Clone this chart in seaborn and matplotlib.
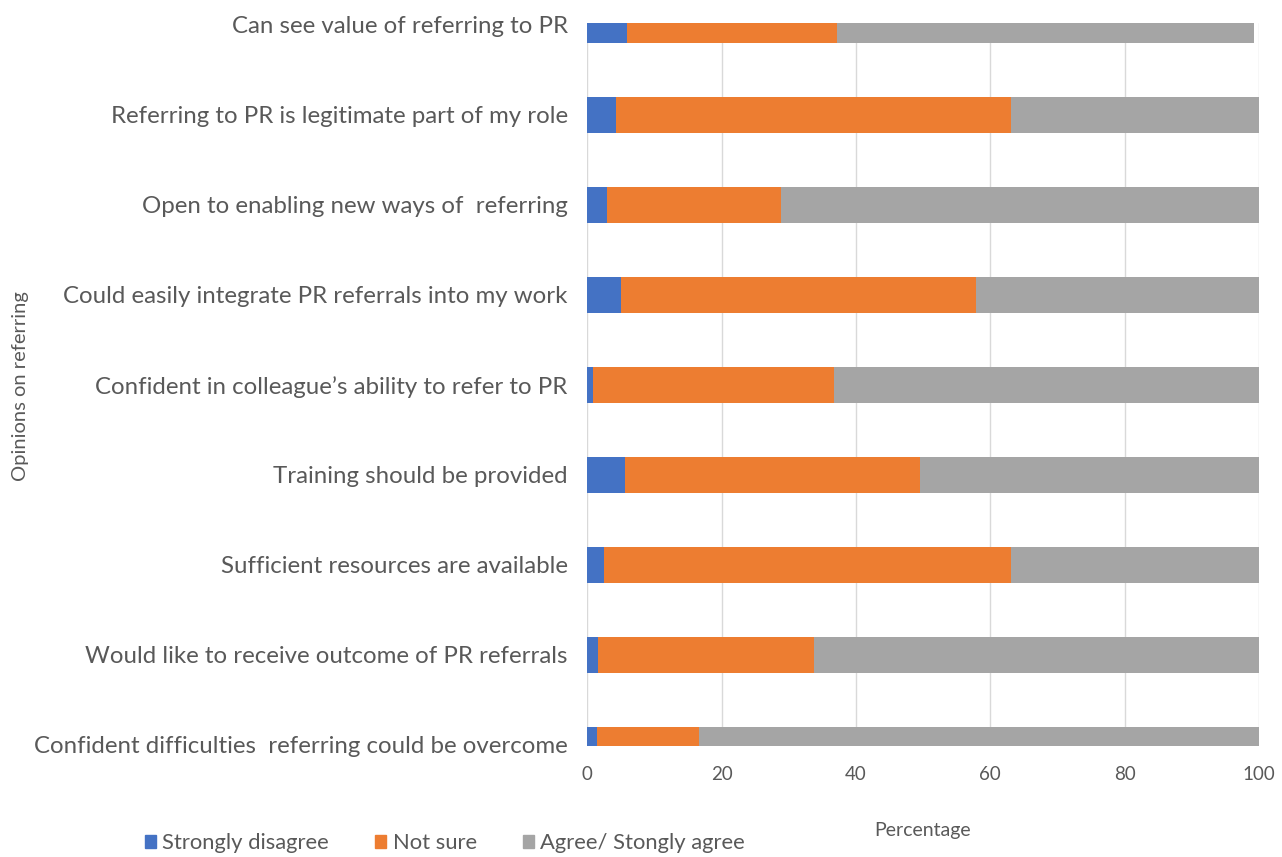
import pandas as pd
import seaborn as sns
import matplotlib.pyplot as plt

# Datos (porcentajes)
opinions = [
    "Can see value of referring to PR",
    "Referring to PR is legitimate part of my role",
    "Open to enabling new ways of  referring",
    "Could easily integrate PR referrals into my work",
    "Confident in colleague\u2019s ability to refer to PR",
    "Training should be provided",
    "Sufficient resources are available",
    "Would like to receive outcome of PR referrals",
    "Confident difficulties  referring could be overcome",
]
strongly_disagree = [5.9, 4.3, 2.9, 5.1, 0.8, 5.7, 2.5, 1.6, 1.5]
not_sure = [31.3, 58.8, 26.0, 52.8, 35.9, 43.8, 60.6, 32.1, 15.2]
agree = [62.0, 36.9, 71.1, 42.1, 63.3, 50.5, 36.9, 66.3, 83.3]

series = ["Strongly disagree", "Not sure", "Agree/ Stongly agree"]
colors = ["#4472C4", "#ED7D31", "#A5A5A5"]
text_color = "#595959"

df = pd.DataFrame({
    "Opinion": opinions,
    series[0]: strongly_disagree,
    series[1]: not_sure,
    series[2]: agree,
})
# acumulados para apilar las barras
cum = df[series].cumsum(axis=1)

sns.set_style("white")
plt.rcParams["font.family"] = ["Lato", "DejaVu Sans"]

fig = plt.figure(figsize=(12.82, 8.57), dpi=100)
ax = fig.add_axes([0.458, 0.129, 0.524, 0.844])

for name, color in reversed(list(zip(series, colors))):
    sns.barplot(x=cum[name], y=df["Opinion"], color=color, width=0.4,
                saturation=1, linewidth=0, ax=ax, orient="h", zorder=3)

ax.set_xlim(0, 100)
ax.set_ylim(len(opinions) - 1 + 0.02, -0.02)
ax.set_xticks([0, 20, 40, 60, 80, 100])
ax.grid(axis="x", color="#D9D9D9", linewidth=1, zorder=0)
ax.set_axisbelow(True)
for s in ax.spines.values():
    s.set_visible(False)
ax.tick_params(axis="both", length=0, colors=text_color)
ax.tick_params(axis="y", labelsize=17.3, pad=14)
ax.tick_params(axis="x", labelsize=13.5, pad=14)
ax.set_xlabel("Percentage", fontsize=14, color=text_color, labelpad=28)
ax.set_ylabel("")
fig.text(0.016, 0.55, "Opinions on referring", rotation=90, fontsize=14.5,
         color=text_color, ha="center", va="center")

handles = [plt.Rectangle((0, 0), 1, 1, color=c) for c in colors]
fig.legend(handles, series, loc="center", bbox_to_anchor=(0.347, 0.016), ncol=3,
           frameon=False, fontsize=15.8, handlelength=0.5, handleheight=0.5,
           handletextpad=0.3, columnspacing=2.1, labelcolor=text_color)

fig.savefig("out.png", dpi=100)
